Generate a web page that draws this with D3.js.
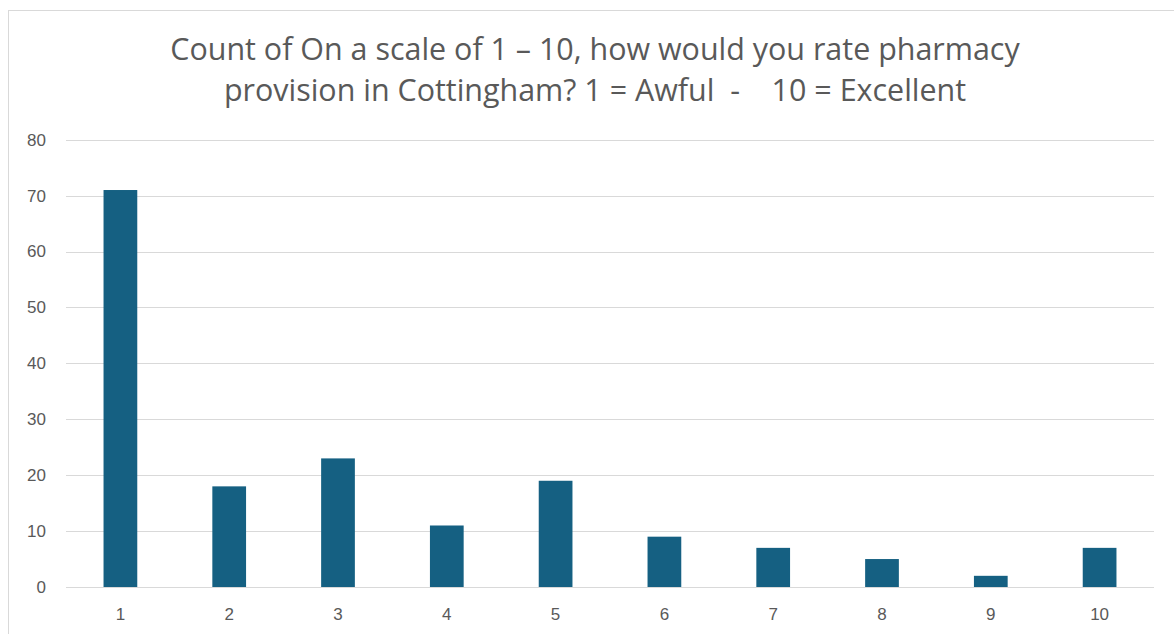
<!DOCTYPE html>
<html>
<head>
<meta charset="utf-8">
<script src="https://cdn.jsdelivr.net/npm/d3@7"></script>
<style>
  html, body { margin: 0; padding: 0; background: #fff; }
  svg { display: block; }
  text { font-family: "Open Sans", "Liberation Sans", sans-serif; }
</style>
</head>
<body>
<svg id="chart" width="1174" height="634"></svg>
<script>
const categories = ["1", "2", "3", "4", "5", "6", "7", "8", "9", "10"];
const counts = [71, 18, 23, 11, 19, 9, 7, 5, 2, 7];
const yTicks = [0, 10, 20, 30, 40, 50, 60, 70, 80];
const titleLines = [
  "Count of On a scale of 1 \u2013 10, how would you rate pharmacy",
  "provision in Cottingham? 1 = Awful  -    10 = Excellent"
];

const W = 1174, H = 634;
const margin = { left: 66, right: 20, top: 139.7, bottom: 47 };
const svg = d3.select("#chart");
const axisFont = "'Liberation Sans', Arial, sans-serif";

// outer border
svg.append("rect")
  .attr("x", 8.5).attr("y", 10.5)
  .attr("width", W).attr("height", H)
  .attr("fill", "#fff").attr("stroke", "#d9d9d9").attr("stroke-width", 1);

const x = d3.scaleBand().domain(categories)
  .range([margin.left, W - margin.right])
  .paddingInner(0.69).paddingOuter(0.345);
const y = d3.scaleLinear().domain([0, 80]).range([H - margin.bottom, margin.top]);

// gridlines
svg.append("g").selectAll("line").data(yTicks).join("line")
  .attr("x1", margin.left).attr("x2", W - margin.right)
  .attr("y1", d => Math.round(y(d)) + 0.5).attr("y2", d => Math.round(y(d)) + 0.5)
  .attr("stroke", "#d9d9d9").attr("stroke-width", 1);

// y axis labels
const yAxis = d3.axisLeft(y).tickValues(yTicks).tickSize(0).tickPadding(0);
const gy = svg.append("g").attr("transform", "translate(46,0)").call(yAxis);
gy.select(".domain").remove();
gy.selectAll("text").attr("fill", "#595959").style("font-size", "17px")
  .style("font-family", axisFont);

// bars
svg.append("g").selectAll("rect").data(counts).join("rect")
  .attr("x", (d, i) => x(categories[i]))
  .attr("width", x.bandwidth())
  .attr("y", d => y(d))
  .attr("height", d => y(0) - y(d))
  .attr("fill", "#156082");

// x axis labels
const xAxis = d3.axisBottom(x).tickSize(0).tickPadding(0);
const gx = svg.append("g").attr("transform", `translate(0,${y(0) + 21})`).call(xAxis);
gx.select(".domain").remove();
gx.selectAll("text").attr("fill", "#595959").style("font-size", "17px")
  .style("font-family", axisFont);

// title
const title = svg.append("g");
const tl = title.selectAll("text").data(titleLines).join("text")
  .attr("x", 595).attr("y", (d, i) => 60 + i * 41)
  .attr("text-anchor", "middle")
  .attr("fill", "#595959")
  .style("font-size", "27px")
  .style("white-space", "pre")
  .attr("xml:space", "preserve")
  .text(d => d);
// fit first line to ~850px width
const w0 = tl.nodes()[0].getComputedTextLength();
const fs = 27 * 850 / w0;
tl.style("font-size", fs + "px");
</script>
</body>
</html>
